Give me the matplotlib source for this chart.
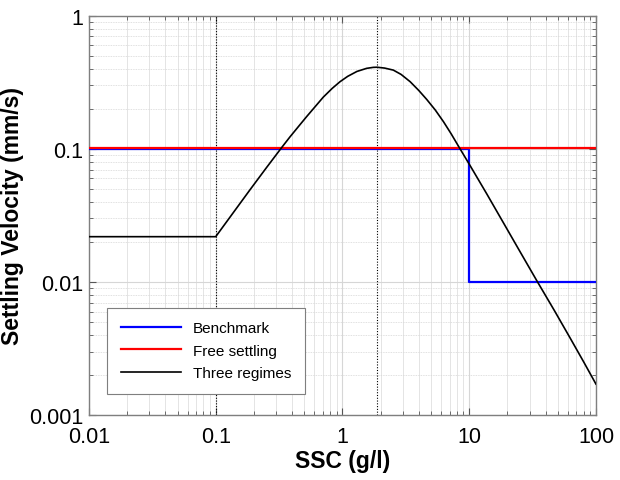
import matplotlib
matplotlib.use('Agg')
import matplotlib.pyplot as plt
from matplotlib.ticker import LogLocator, NullFormatter

plt.rcParams['font.family'] = ['Liberation Sans', 'DejaVu Sans']

# benchmark: step from 0.1 to 0.01 at 10 g/l
ssc_bench = [0.01, 10, 10, 100]
ws_bench = [0.1, 0.1, 0.01, 0.01]

# free settling, constant
ssc_free = [0.01, 100]
ws_free = [0.102, 0.102]

# three regimes curve
ssc_three = [0.01, 0.1, 0.187, 0.25, 0.332, 0.385, 0.462, 0.522, 0.706, 0.83,
             0.957, 1.1, 1.30, 1.55, 1.75, 1.87, 2.15, 2.52, 2.9, 3.42,
             4.0, 4.62, 5.4, 6.27, 7.2, 8.22, 10.2, 13.8, 18.6, 25,
             34.2, 47, 62.5, 80, 100]
ws_three = [0.0219, 0.0219, 0.0495, 0.0718, 0.1026, 0.123, 0.152, 0.175, 0.245, 0.285,
            0.32, 0.351, 0.382, 0.403, 0.410, 0.411, 0.405, 0.391, 0.363, 0.32,
            0.275, 0.2355, 0.196, 0.160, 0.130, 0.105, 0.0745, 0.0457, 0.0279, 0.0171,
            0.0102, 0.0061, 0.0038, 0.00251, 0.00171]

# regime limits (dotted lines)
regime_limits = [0.1, 1.88]

xticks = [0.01, 0.1, 1, 10, 100]
xtick_labels = ['0.01', '0.1', '1', '10', '100']
yticks = [0.001, 0.01, 0.1, 1]
ytick_labels = ['0.001', '0.01', '0.1', '1']

fig = plt.figure(figsize=(6.2, 4.81), dpi=100)
ax = fig.add_axes([0.1435, 0.135, 0.8177, 0.83])

ax.set_xscale('log')
ax.set_yscale('log')

for xl in regime_limits:
    ax.axvline(xl, color='black', ls=(0, (1, 1.5)), lw=0.8, zorder=2)

ax.plot(ssc_bench, ws_bench, color='#0000ff', lw=1.6, label='Benchmark', zorder=3)
ax.plot(ssc_free, ws_free, color='#ff0000', lw=1.6, label='Free settling', zorder=3)
ax.plot(ssc_three, ws_three, color='black', lw=1.2, label='Three regimes', zorder=4)

ax.set_xlim(0.01, 100)
ax.set_ylim(0.001, 1)

ax.set_xticks(xticks)
ax.set_xticklabels(xtick_labels)
ax.set_yticks(yticks)
ax.set_yticklabels(ytick_labels)
ax.xaxis.set_minor_locator(LogLocator(base=10, subs=range(2, 10)))
ax.yaxis.set_minor_locator(LogLocator(base=10, subs=range(2, 10)))
ax.xaxis.set_minor_formatter(NullFormatter())
ax.yaxis.set_minor_formatter(NullFormatter())

ax.tick_params(which='both', direction='in', top=True, right=True, color='#555555')
ax.tick_params(which='major', length=5, labelsize=15.5)
ax.tick_params(axis='y', which='major', pad=4)
ax.tick_params(axis='x', which='major', pad=8)
ax.tick_params(which='minor', length=3)

ax.grid(which='major', color='#d6d6d6', lw=0.8, ls='-')
ax.xaxis.grid(which='minor', color='#e4e4e4', lw=0.7, ls='-')
ax.yaxis.grid(which='minor', color='#d6d6d6', lw=0.6, ls=(0, (1, 1)))
ax.set_axisbelow(True)

for sp in ax.spines.values():
    sp.set_color('#7f7f7f')
    sp.set_linewidth(1.0)

ax.set_xlabel('SSC (g/l)', fontsize=16.5, fontweight='bold', labelpad=1)
ax.set_ylabel('Settling Velocity (mm/s)', fontsize=16.5, fontweight='bold', labelpad=4)

leg = ax.legend(loc='lower left', bbox_to_anchor=(0.036, 0.053), borderaxespad=0,
                fontsize=11, handlelength=3.9, borderpad=0.9, labelspacing=0.55,
                handletextpad=0.8, fancybox=False, framealpha=1)
leg.get_frame().set_edgecolor('#7f7f7f')
leg.get_frame().set_linewidth(0.8)

fig.savefig('out.png', dpi=100)
